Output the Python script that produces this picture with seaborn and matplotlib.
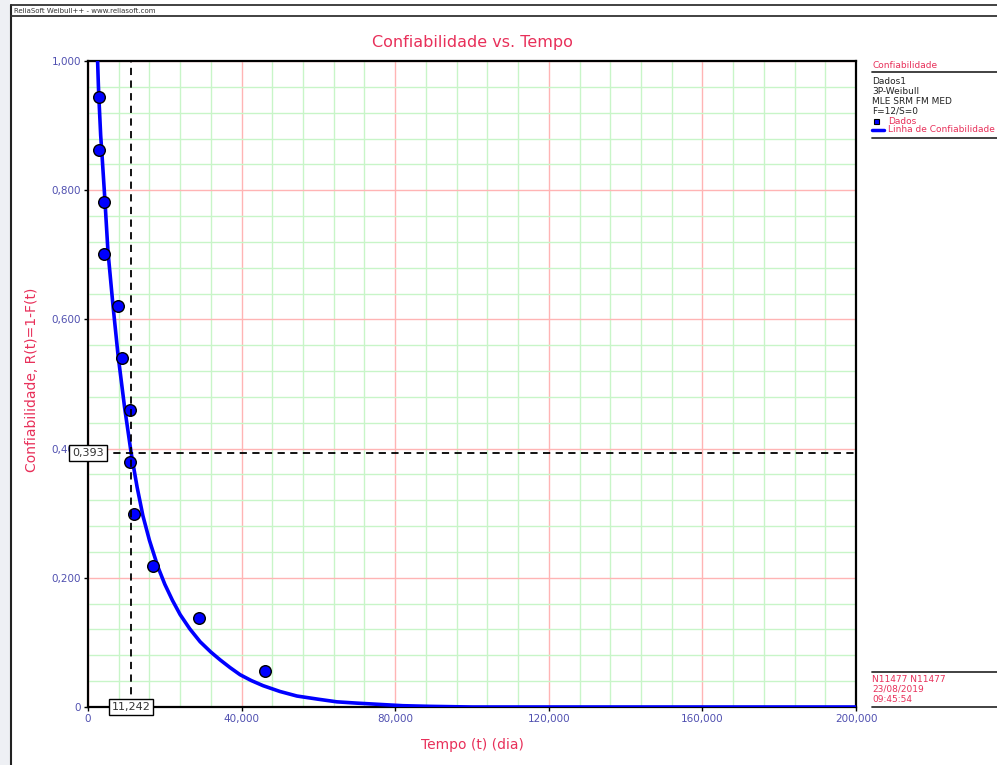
import matplotlib
matplotlib.use('Agg')
import matplotlib.pyplot as plt
import seaborn as sns
from matplotlib.lines import Line2D
from matplotlib.patches import Rectangle

# pontos de dados (mediana dos postos)
tempo_dados = [2900, 2900, 4100, 4100, 7800, 8900, 11000, 10900, 12000, 16900, 28900, 46100]
confiab_dados = [0.944, 0.863, 0.782, 0.702, 0.621, 0.540, 0.460, 0.379, 0.298, 0.218, 0.137, 0.056]

# linha de confiabilidade
tempo_curva = [2500, 2700, 2900, 3300, 3600, 4400, 5200, 6500, 7800, 9500, 11242, 12800,
               14300, 16000, 18200, 20000, 22000, 24000, 26500, 29200, 32000, 34400, 37000,
               39600, 42500, 45600, 50000, 54400, 60000, 64800, 70000, 76000, 82000, 89000,
               100000, 200000]
confiab_curva = [1.000, 0.963, 0.935, 0.885, 0.859, 0.785, 0.705, 0.622, 0.546, 0.465, 0.393, 0.340,
                 0.296, 0.258, 0.217, 0.190, 0.165, 0.143, 0.121, 0.101, 0.085, 0.073, 0.061,
                 0.050, 0.041, 0.033, 0.024, 0.017, 0.012, 0.008, 0.006, 0.004, 0.002, 0.001,
                 0.0, 0.0]

x_ticks = [0, 40000, 80000, 120000, 160000, 200000]
x_labels = ['0', '40,000', '80,000', '120,000', '160,000', '200,000']
y_ticks = [0, 0.2, 0.4, 0.6, 0.8, 1.0]
y_labels = ['0', '0,200', '0,400', '0,600', '0,800', '1,000']

t_marcado = 11242
r_marcado = 0.393

painel = ['Dados1', '3P-Weibull', 'MLE SRM FM MED', 'F=12/S=0']
rodape = ['N11477 N11477', '23/08/2019', '09:45:54']

rosa = '#e8305a'
azul_tick = '#5050b0'

sns.set_style('white')
plt.rcParams['font.family'] = ['DejaVu Sans']

fig = plt.figure(figsize=(9.97, 7.65), dpi=100)
ax = fig.add_axes([88 / 997, 1 - 707 / 765, 768 / 997, 646 / 765])

# grade
ax.set_xticks(range(0, 200001, 8000), minor=True)
ax.set_yticks([i * 0.04 for i in range(26)], minor=True)
ax.grid(which='minor', color='#c8f5c8', linewidth=1)
ax.grid(which='major', color='#ffb4b4', linewidth=1)
ax.set_axisbelow(True)

sns.lineplot(x=tempo_curva, y=confiab_curva, color='#0000ff', linewidth=2.6, ax=ax, zorder=3)
sns.scatterplot(x=tempo_dados, y=confiab_dados, color='#0000ff', edgecolor='black',
                linewidth=1, s=70, ax=ax, zorder=4)

ax.axhline(r_marcado, color='black', linestyle=(0, (4, 3)), linewidth=1.3, zorder=5)
ax.axvline(t_marcado, color='black', linestyle=(0, (4, 3)), linewidth=1.3, zorder=5)

ax.set_xlim(0, 200000)
ax.set_ylim(0, 1.0)
ax.set_xticks(x_ticks)
ax.set_xticklabels(x_labels)
ax.set_yticks(y_ticks)
ax.set_yticklabels(y_labels)
ax.tick_params(which='major', length=3, width=1, color='black', labelsize=7.5,
               labelcolor=azul_tick, pad=2, direction='out', bottom=True, left=True)
ax.tick_params(which='minor', length=0)
for s in ax.spines.values():
    s.set_color('black')
    s.set_linewidth(1.6)

ax.set_xlabel('Tempo (t) (dia)', color=rosa, fontsize=10)
ax.set_ylabel('Confiabilidade, R(t)=1-F(t)', color=rosa, fontsize=10)
ax.xaxis.set_label_coords(0.5, -38 / 646, transform=ax.transAxes)
ax.yaxis.set_label_coords(-56 / 768, 0.506, transform=ax.transAxes)
ax.xaxis.label.set_va('center')
ax.yaxis.label.set_va('center')
ax.set_title('Confiabilidade vs. Tempo', color=rosa, fontsize=11.5, pad=10)

caixa = dict(boxstyle='square,pad=0.25', facecolor='white', edgecolor='black', linewidth=1)
ax.text(0, r_marcado, '0,393', ha='center', va='center', fontsize=8, color='#333333',
        bbox=caixa, zorder=10, clip_on=False)
ax.text(t_marcado, 0, '11,242', ha='center', va='center', fontsize=8, color='#333333',
        bbox=caixa, zorder=10, clip_on=False)

# moldura da janela
fig.patches.append(Rectangle((0, 0), 10 / 997, 1, transform=fig.transFigure,
                             facecolor='#eef0f4', edgecolor='none'))
fig.lines.append(Line2D([11 / 997, 11 / 997], [0, 1 - 5 / 765], transform=fig.transFigure,
                        color='#222222', linewidth=1.5))
for yy in [5, 16]:
    fig.lines.append(Line2D([11 / 997, 1], [1 - yy / 765] * 2, transform=fig.transFigure,
                            color='#333333', linewidth=1.3))
fig.text(14 / 997, 1 - 11 / 765, 'ReliaSoft Weibull++ - www.reliasoft.com', fontsize=5,
         color='#333333', va='center', ha='left')

# painel da direita
x0 = 872 / 997
fig.text(x0, 1 - 65 / 765, 'Confiabilidade', color=rosa, fontsize=6.5, va='center')
fig.lines.append(Line2D([x0, 1], [1 - 72 / 765] * 2, transform=fig.transFigure,
                        color='#333333', linewidth=1.3))
for i, txt in enumerate(painel):
    fig.text(x0, 1 - (82 + i * 9.7) / 765, txt, color='#222222', fontsize=6.5, va='center')
fig.patches.append(Rectangle((874 / 997, 1 - 124 / 765), 5 / 997, 5 / 765,
                             transform=fig.transFigure, facecolor='#0000ff', edgecolor='black',
                             linewidth=0.8))
fig.text(888 / 997, 1 - 121 / 765, 'Dados', color=rosa, fontsize=6.5, va='center')
fig.lines.append(Line2D([872 / 997, 884 / 997], [1 - 130 / 765] * 2, transform=fig.transFigure,
                        color='#0000ff', linewidth=2.5))
fig.text(888 / 997, 1 - 130 / 765, 'Linha de Confiabilidade', color=rosa, fontsize=6.5,
         va='center')
fig.lines.append(Line2D([x0, 1], [1 - 138 / 765] * 2, transform=fig.transFigure,
                        color='#333333', linewidth=1.3))

fig.lines.append(Line2D([x0, 1], [1 - 672 / 765] * 2, transform=fig.transFigure,
                        color='#333333', linewidth=1.3))
for i, txt in enumerate(rodape):
    fig.text(x0, 1 - (679 + i * 10.5) / 765, txt, color=rosa, fontsize=6.5, va='center')
fig.lines.append(Line2D([x0, 1], [1 - 707 / 765] * 2, transform=fig.transFigure,
                        color='#333333', linewidth=1.3))

fig.savefig('out.png', dpi=100)
